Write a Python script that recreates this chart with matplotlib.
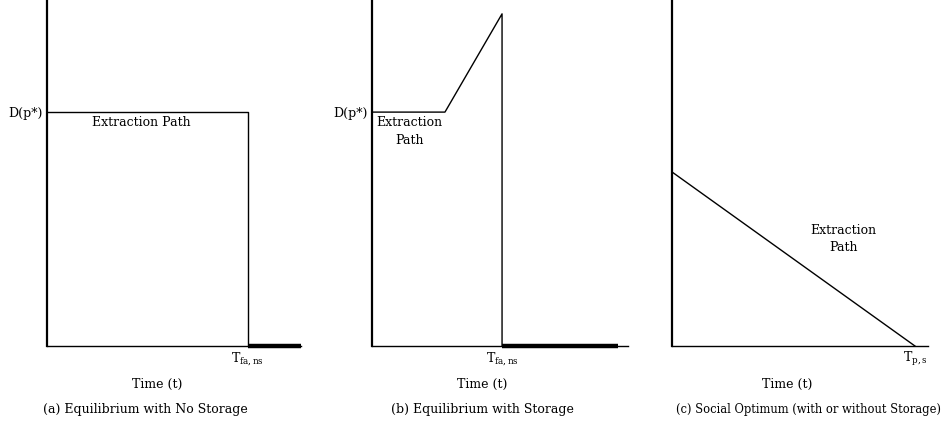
import matplotlib
matplotlib.use("Agg")
import matplotlib.pyplot as plt

plt.rcParams['font.family'] = ['DejaVu Serif']
plt.rcParams['mathtext.fontset'] = 'dejavuserif'

# ---- data (abstract units: time 0..10, extraction 0..10) ----
D_level = 6.76
# panel (a): equilibrium with no storage
a_time = [0.0, 7.91, 7.91]
a_extr = [D_level, D_level, 0.0]
a_tail_time = [7.91, 10.0]
a_tail_extr = [0.0, 0.0]
a_T_label = r'$\mathrm{T}_{\mathrm{fa,ns}}$'

# panel (b): equilibrium with storage
b_time = [0.0, 2.85, 5.08, 5.08]
b_extr = [D_level, D_level, 9.6, 0.0]
b_tail_time = [5.08, 9.6]
b_tail_extr = [0.0, 0.0]
b_T_label = r'$\mathrm{T}_{\mathrm{fa,ns}}$'

# panel (c): social optimum
c_time = [0.0, 9.49]
c_extr = [5.03, 0.0]
c_T_label = r'$\mathrm{T}_{\mathrm{p,s}}$'

captions = ["(a) Equilibrium with No Storage",
            "(b) Equilibrium with Storage",
            "(c) Social Optimum (with or without Storage)"]
xlabel = "Time (t)"
ylabel_D = "D(p*)"

W, H = 948, 426
fig = plt.figure(figsize=(W/100, H/100), dpi=100)

def add_ax(x0, x1):
    # pixel coords -> figure fraction; axis y from 0 (top) to 346 (bottom)
    return fig.add_axes([x0/W, (H-346)/H, (x1-x0)/W, 346/H])

axes = [add_ax(47, 301), add_ax(372, 628), add_ax(672, 928)]
fs = 9

for ax in axes:
    ax.set_xlim(0, 10)
    ax.set_ylim(0, 10)
    for s in ['top', 'right']:
        ax.spines[s].set_visible(False)
    ax.spines['left'].set_linewidth(1.6)
    ax.spines['bottom'].set_linewidth(1.0)
    ax.tick_params(length=0, labelsize=fs, pad=3)

# (a)
ax = axes[0]
ax.plot(a_time, a_extr, color='black', lw=1.0, clip_on=False)
ax.plot(a_tail_time, a_tail_extr, color='black', lw=3.2, solid_capstyle='butt', clip_on=False)
ax.set_xticks([a_time[1]])
ax.set_xticklabels([a_T_label], fontsize=fs)
ax.set_yticks([D_level])
ax.set_yticklabels([ylabel_D], fontsize=fs)
ax.text(3.7, D_level - 0.12, "Extraction Path", ha='center', va='top', fontsize=fs)

# (b)
ax = axes[1]
ax.plot(b_time, b_extr, color='black', lw=1.0, clip_on=False)
ax.plot(b_tail_time, b_tail_extr, color='black', lw=3.2, solid_capstyle='butt', clip_on=False)
ax.set_xticks([b_time[2]])
ax.set_xticklabels([b_T_label], fontsize=fs)
ax.set_yticks([D_level])
ax.set_yticklabels([ylabel_D], fontsize=fs)
ax.text(1.45, D_level - 0.12, "Extraction\nPath", ha='center', va='top', fontsize=fs,
        linespacing=1.45)

# (c)
ax = axes[2]
ax.plot(c_time, c_extr, color='black', lw=1.0, clip_on=False)
ax.set_xticks([c_time[1]])
ax.set_xticklabels([c_T_label], fontsize=fs)
ax.set_yticks([])
ax.text(6.7, 3.09, "Extraction\nPath", ha='center', va='center', fontsize=fs,
        linespacing=1.45)

time_x = [157, 482, 787]
for tx in time_x:
    fig.text(tx/W, 1 - 384/H, xlabel, ha='center', va='center', fontsize=fs)

cap_x = [145, 482, 809]
cap_fs = [fs, fs, 8.3]
for cx, cap, cf in zip(cap_x, captions, cap_fs):
    fig.text(cx/W, 1 - 410/H, cap, ha='center', va='center', fontsize=cf)

fig.savefig("out.png", dpi=100)
